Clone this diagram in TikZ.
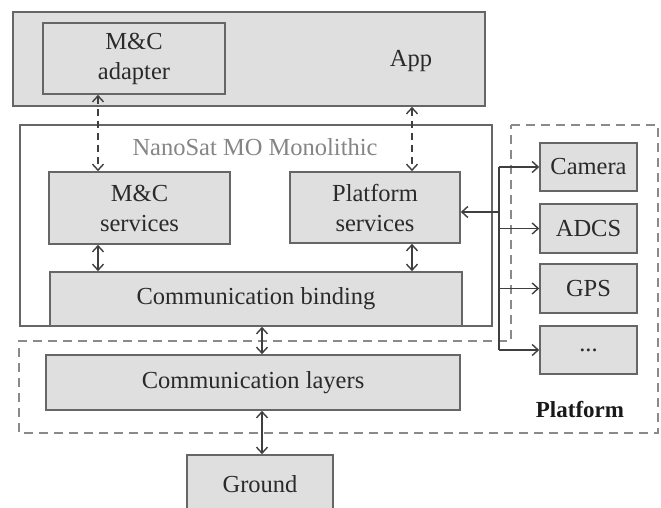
\documentclass[tikz,border=0pt]{standalone}
\usepackage{fontspec}
\setmainfont{Liberation Serif}
\usetikzlibrary{arrows.meta}
\definecolor{boxfill}{HTML}{DFDFDF}
\definecolor{boxline}{HTML}{666666}
\definecolor{txtc}{HTML}{2A2A2A}
\definecolor{titlec}{HTML}{858585}
\definecolor{dashc}{HTML}{8A8A8A}
\definecolor{arrc}{HTML}{3F3F3F}
\begin{document}
\begin{tikzpicture}[x=1pt,y=-1pt,
  gbox/.style={draw=boxline,fill=boxfill,line width=1.6pt,inner sep=0pt,align=center,
    text=txtc,font=\fontsize{24.5}{30}\selectfont},
  wbox/.style={gbox,fill=white},
  lbl/.style={inner sep=0pt,text=txtc,font=\fontsize{24.5}{30}\selectfont},
  tip/.tip={Straight Barb[length=6pt,width=11pt,line width=1.4pt]},
  arr/.style={draw=arrc,line width=1.4pt,-tip},
  darr/.style={arr,tip-tip},
  ddarr/.style={darr,dash pattern=on 7pt off 5pt},
  dline/.style={draw=dashc,line width=1.6pt,dash pattern=on 9pt off 6pt},
]
\useasboundingbox (0,0) rectangle (661,508);
% App
\node[gbox,minimum width=472pt,minimum height=94pt] (app) at (249,59) {};
\node[lbl] (apptxt) at (411,61) {App};
\node[gbox,minimum width=182pt,minimum height=71pt] (mca) at (134,58.5) {M\&C\\adapter};
% Monolithic
\node[wbox,minimum width=472pt,minimum height=201pt] (mono) at (256,225.5) {};
\node[lbl,text=titlec] (monotitle) at (255,147) {NanoSat MO Monolithic};
\node[gbox,minimum width=181pt,minimum height=72pt] (mcs) at (139.5,208) {M\&C\\services};
\node[gbox,minimum width=170pt,minimum height=71pt] (ps) at (375,207.5) {Platform\\services};
\node[gbox,minimum width=412pt,minimum height=54pt] (cb) at (256,299) {Communication binding};
% Platform region
\draw[dline] (511,125) -- (658,125) -- (658,433) -- (19,433) -- (19,341) -- (511,341) -- cycle;
\node[gbox,minimum width=414pt,minimum height=55pt] (cl) at (253,382.5) {Communication layers};
\node[lbl,font=\fontsize{23}{26}\selectfont\bfseries,text=black!90] (plat) at (580,410) {Platform};
\node[gbox,minimum width=97pt,minimum height=48pt] (cam) at (588.5,167) {Camera};
\node[gbox,minimum width=97pt,minimum height=49pt] (adcs) at (588.5,228.5) {ADCS};
\node[gbox,minimum width=97pt,minimum height=49pt] (gps) at (588.5,288.5) {GPS};
\node[gbox,minimum width=97pt,minimum height=48pt] (dots) at (588.5,350) {...};
% Ground
\node[gbox,minimum width=146pt,minimum height=58pt] (gr) at (260,484) {Ground};
% helper coordinates
\coordinate (xL) at (98,0);
\coordinate (xR) at (412,0);
\coordinate (xM) at (262,0);
\coordinate (bus1) at (499,167);
\coordinate (busps) at (499,212);
\coordinate (bus2) at (499,228.5);
\coordinate (bus3) at (499,288.5);
\coordinate (bus4) at (499,350);
% connectors
\draw[ddarr] (mca.south -| xL) -- (mcs.north -| xL);
\draw[ddarr] (app.south -| xR) -- (ps.north -| xR);
\draw[darr] (mcs.south -| xL) -- (cb.north -| xL);
\draw[darr] (ps.south -| xR) -- (cb.north -| xR);
\draw[darr] (cb.south -| xM) -- (cl.north -| xM);
\draw[darr] (cl.south -| xM) -- (gr.north -| xM);
\draw[draw=arrc,line width=1.4pt] (bus1) -- (bus4);
\draw[arr] (busps) -- (ps.east |- busps);
\draw[arr] (bus1) -- (cam.west);
\draw[arr] (bus2) -- (adcs.west);
\draw[arr] (bus3) -- (gps.west);
\draw[arr] (bus4) -- (dots.west);
\end{tikzpicture}
\end{document}
